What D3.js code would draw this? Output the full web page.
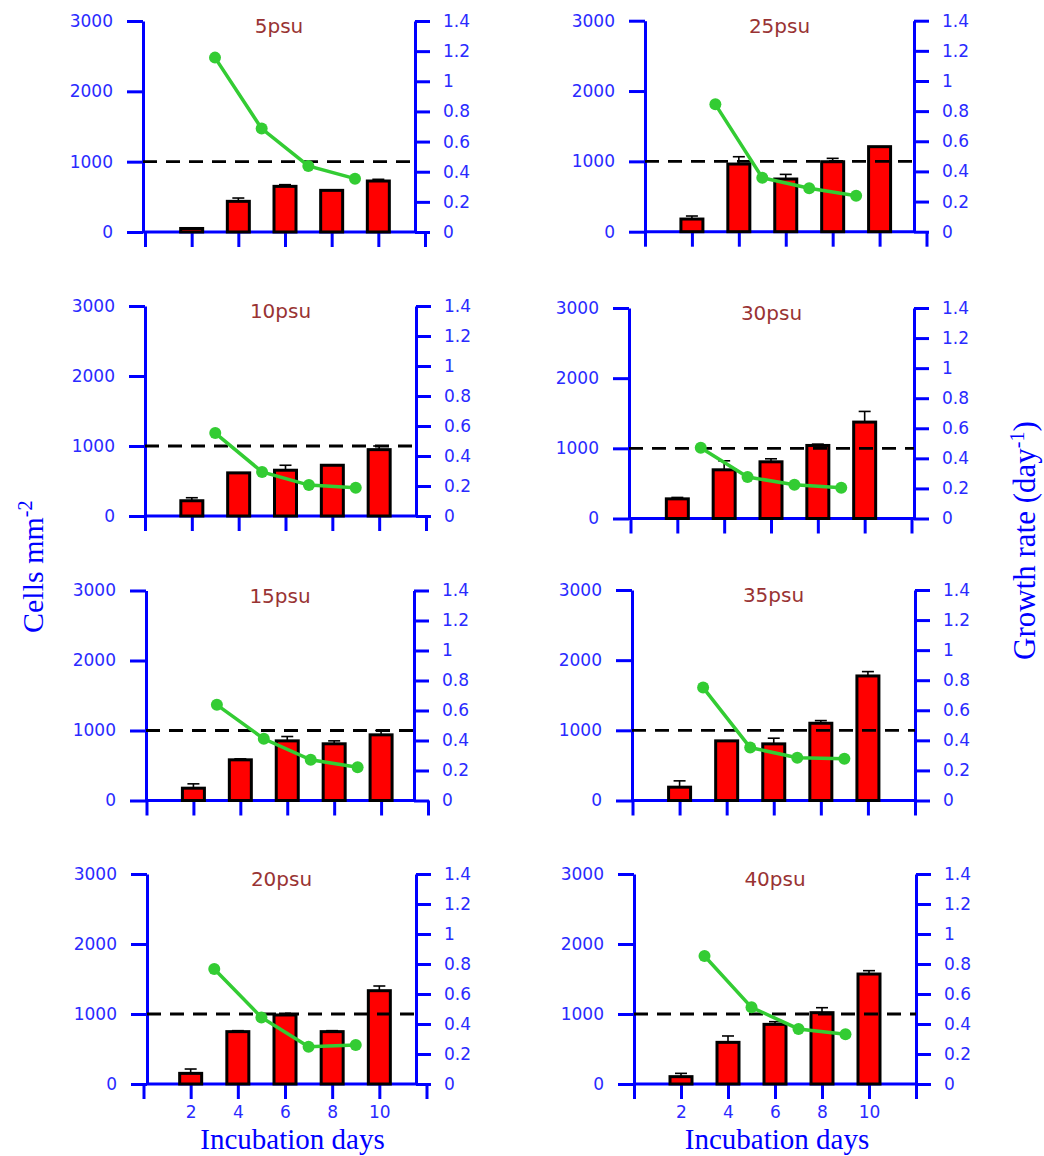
<!DOCTYPE html>
<html><head><meta charset="utf-8">
<script src="https://cdnjs.cloudflare.com/ajax/libs/d3/7.8.5/d3.min.js"></script>
<style>body{margin:0;background:#fff}</style>
</head><body><svg id="c" width="1044" height="1156"></svg>
<script>
// ---------- data ----------
const panelNames = ["5psu","10psu","15psu","20psu","25psu","30psu","35psu","40psu"];
const days = [2,4,6,8,10];
const rateDays = [3,5,7,9];
const xTicks = [0,2,4,6,8,10,12];
const xLabelTicks = [2,4,6,8,10];
const leftTicks = [0,1000,2000,3000];
const rightTicks = [0,0.2,0.4,0.6,0.8,1,1.2,1.4];
const refLine = 1000;

const cells5  = [50,436,649,592,725];    const err5  = [8,47,24,0,24];    const rate5  = [1.157,0.686,0.438,0.354];
const cells10 = [218,616,654,725,948];   const err10 = [43,0,71,0,52];    const rate10 = [0.553,0.294,0.206,0.188];
const cells15 = [176,581,852,810,938];   const err15 = [62,14,62,42,62];  const rate15 = [0.638,0.411,0.271,0.222];
const cells20 = [152,748,986,748,1333];  const err20 = [62,14,24,14,67];  const rate20 = [0.767,0.444,0.249,0.260];
const cells25 = [180,962,749,995,1209];  const err25 = [43,104,66,48,0];  const rate25 = [0.845,0.358,0.288,0.239];
const cells30 = [280,694,808,1041,1374]; const err30 = [20,128,43,19,152];const rate30 = [0.470,0.276,0.225,0.205];
const cells35 = [190,850,807,1101,1775]; const err35 = [90,0,81,38,62];   const rate35 = [0.751,0.352,0.285,0.277];
const cells40 = [105,595,852,1019,1571]; const err40 = [47,91,38,71,48];  const rate40 = [0.853,0.511,0.367,0.331];

const cellsAll = [cells5,cells10,cells15,cells20,cells25,cells30,cells35,cells40];
const errAll   = [err5,err10,err15,err20,err25,err30,err35,err40];
const rateAll  = [rate5,rate10,rate15,rate20,rate25,rate30,rate35,rate40];

// ---------- layout (pixel frame of each panel) ----------
const layout = [
  {top:21,   bottom:232,   la:143, ra:415, x0:145,   x12:425,   bottomRow:false},
  {top:306,  bottom:516,   la:145, ra:416, x0:145,   x12:426,   bottomRow:false},
  {top:590.5,bottom:800.5, la:146, ra:414, x0:146.5, x12:428,   bottomRow:false},
  {top:874,  bottom:1084,  la:147, ra:416, x0:143.5, x12:426.5, bottomRow:true},
  {top:20.7, bottom:231.7, la:645, ra:914, x0:645,   x12:926.5, bottomRow:false},
  {top:308,  bottom:518.5, la:629, ra:914, x0:630.5, x12:911.5, bottomRow:false},
  {top:590,  bottom:800.5, la:632, ra:915, x0:632.5, x12:915,   bottomRow:false},
  {top:874,  bottom:1084,  la:634, ra:916, x0:634,   x12:916,   bottomRow:true}
];

const BLUE = "#0000ff", LABEL = "#2a2aff", TITLE = "#993333", GREEN = "#33cc33";
const svg = d3.select("#c");

panelNames.forEach((name, i) => {
  const L = layout[i];
  const g = svg.append("g");
  const x = d3.scaleLinear().domain([0,12]).range([L.x0, L.x12]);
  const yL = d3.scaleLinear().domain([0,3000]).range([L.bottom, L.top]);
  const yR = d3.scaleLinear().domain([0,1.4]).range([L.bottom, L.top]);

  // axes
  const aL = g.append("g").attr("transform", `translate(${L.la},0)`)
    .call(d3.axisLeft(yL).tickValues(leftTicks).tickSize(16).tickSizeOuter(0).tickPadding(14)
      .tickFormat(d3.format("d")));
  const aR = g.append("g").attr("transform", `translate(${L.ra},0)`)
    .call(d3.axisRight(yR).tickValues(rightTicks).tickSize(15).tickSizeOuter(0).tickPadding(13)
      .tickFormat(d3.format("~g")));
  const aB = g.append("g").attr("transform", `translate(0,${L.bottom})`)
    .call(d3.axisBottom(x).tickValues(xTicks).tickSize(15).tickSizeOuter(0).tickPadding(7)
      .tickFormat(d => (L.bottomRow && xLabelTicks.includes(d)) ? d : ""));
  aB.select(".domain").remove();
  g.append("line").attr("x1", L.la).attr("x2", L.ra).attr("y1", L.bottom).attr("y2", L.bottom)
    .attr("stroke", BLUE).attr("stroke-width", 3);

  [aL, aR, aB].forEach(a => {
    a.selectAll(".domain").attr("stroke", BLUE).attr("stroke-width", 3);
    a.selectAll(".tick line").attr("stroke", BLUE).attr("stroke-width", 3);
    a.selectAll("text").attr("fill", LABEL).attr("font-family", "DejaVu Sans").attr("font-size", 17);
  });

  // bars
  const data = days.map((d, k) => ({day:d, v:cellsAll[i][k], e:errAll[i][k]}));
  const bw = 22;
  g.selectAll("rect.bar").data(data).enter().append("rect")
    .attr("x", d => x(d.day) - bw/2).attr("width", bw)
    .attr("y", d => yL(d.v)).attr("height", d => yL(0) - yL(d.v))
    .attr("fill", "#ff0000").attr("stroke", "#000").attr("stroke-width", 3);
  // error bars
  const eb = data.filter(d => d.e > 0);
  g.selectAll("line.err").data(eb).enter().append("line")
    .attr("x1", d => x(d.day)).attr("x2", d => x(d.day))
    .attr("y1", d => yL(d.v)).attr("y2", d => yL(d.v + d.e))
    .attr("stroke", "#000").attr("stroke-width", 1.6);
  g.selectAll("line.cap").data(eb).enter().append("line")
    .attr("x1", d => x(d.day) - 6).attr("x2", d => x(d.day) + 6)
    .attr("y1", d => yL(d.v + d.e)).attr("y2", d => yL(d.v + d.e))
    .attr("stroke", "#000").attr("stroke-width", 1.6);

  // reference dashed line
  g.append("line").attr("x1", L.la).attr("x2", L.ra)
    .attr("y1", yL(refLine)).attr("y2", yL(refLine))
    .attr("stroke", "#000").attr("stroke-width", 2.8).attr("stroke-dasharray", "14,9");

  // growth rate
  const rd = rateDays.map((d, k) => ({day:d, r:rateAll[i][k]}));
  g.append("path").datum(rd)
    .attr("d", d3.line().x(d => x(d.day)).y(d => yR(d.r)))
    .attr("fill", "none").attr("stroke", GREEN).attr("stroke-width", 3.5);
  g.selectAll("circle.pt").data(rd).enter().append("circle")
    .attr("cx", d => x(d.day)).attr("cy", d => yR(d.r)).attr("r", 6)
    .attr("fill", GREEN);

  // panel title
  g.append("text").attr("x", (L.la + L.ra) / 2).attr("y", L.top + 12)
    .attr("text-anchor", "middle").attr("font-family", "DejaVu Sans").attr("font-size", 20)
    .attr("fill", TITLE).text(name);
});

// axis titles
const serif = "Liberation Serif";
svg.append("text").attr("x", 292.5).attr("y", 1149).attr("text-anchor", "middle")
  .attr("font-family", serif).attr("font-size", 29).attr("fill", BLUE).text("Incubation days");
svg.append("text").attr("x", 777).attr("y", 1149).attr("text-anchor", "middle")
  .attr("font-family", serif).attr("font-size", 29).attr("fill", BLUE).text("Incubation days");

const tL = svg.append("text").attr("transform", "translate(43,633) rotate(-90)")
  .attr("font-family", serif).attr("font-size", 30).attr("fill", BLUE);
tL.append("tspan").text("Cells mm");
tL.append("tspan").attr("font-size", 20).attr("dy", -11).text("-2");

const tR = svg.append("text").attr("transform", "translate(1035,660) rotate(-90)")
  .attr("font-family", serif).attr("font-size", 31).attr("fill", BLUE);
tR.append("tspan").text("Growth rate (day");
tR.append("tspan").attr("font-size", 20).attr("dy", -11).text("-1");
tR.append("tspan").attr("dy", 11).text(")");
</script>
</body></html>
